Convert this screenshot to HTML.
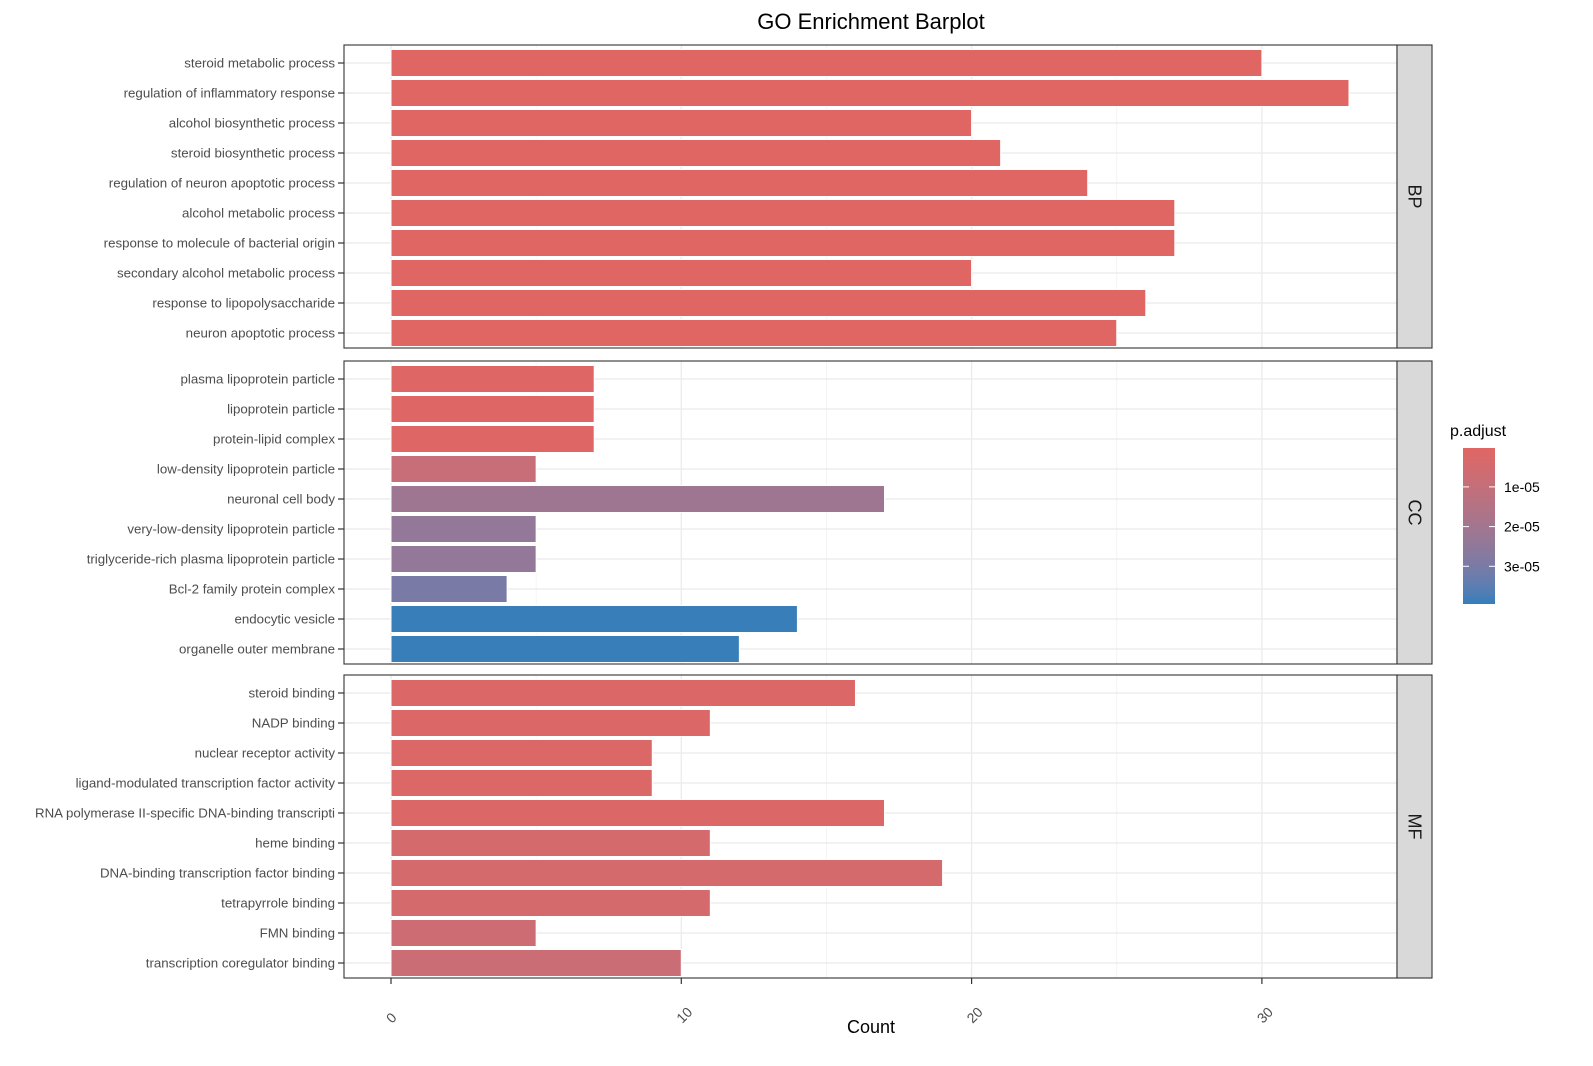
<!DOCTYPE html>
<html><head><meta charset="utf-8"><style>
html,body{margin:0;padding:0;background:#fff;}
svg{display:block;font-family:"Liberation Sans",Arial,sans-serif;}
</style></head><body>
<svg id="chart" width="1593" height="1066" viewBox="0 0 1593 1066"></svg>
<script>
const bpTerms=["steroid metabolic process","regulation of inflammatory response","alcohol biosynthetic process","steroid biosynthetic process","regulation of neuron apoptotic process","alcohol metabolic process","response to molecule of bacterial origin","secondary alcohol metabolic process","response to lipopolysaccharide","neuron apoptotic process"];
const bpCounts=[30,33,20,21,24,27,27,20,26,25];
const bpP=[2e-7,2e-7,2e-7,2e-7,2e-7,2e-7,2e-7,2e-7,2e-7,2e-7];
const ccTerms=["plasma lipoprotein particle","lipoprotein particle","protein-lipid complex","low-density lipoprotein particle","neuronal cell body","very-low-density lipoprotein particle","triglyceride-rich plasma lipoprotein particle","Bcl-2 family protein complex","endocytic vesicle","organelle outer membrane"];
const ccCounts=[7,7,7,5,17,5,5,4,14,12];
const ccP=[1e-6,1e-6,1e-6,9e-6,2.1e-5,2.4e-5,2.4e-5,3.0e-5,3.9e-5,3.9e-5];
const mfTerms=["steroid binding","NADP binding","nuclear receptor activity","ligand-modulated transcription factor activity","RNA polymerase II-specific DNA-binding transcripti","heme binding","DNA-binding transcription factor binding","tetrapyrrole binding","FMN binding","transcription coregulator binding"];
const mfCounts=[16,11,9,9,17,11,19,11,5,10];
const mfP=[1.5e-6,1.5e-6,1.5e-6,1.5e-6,1.5e-6,4e-6,4e-6,4e-6,7e-6,8e-6];
const xTicks=[0,10,20,30];
const legendTicks=[1e-5,2e-5,3e-5];
const legendLabels=["1e-05","2e-05","3e-05"];
const facetNames=["BP","CC","MF"];

const NS="http://www.w3.org/2000/svg";
const svg=document.getElementById("chart");
function el(tag,attrs,parent){const e=document.createElementNS(NS,tag);for(const k in attrs)e.setAttribute(k,attrs[k]);(parent||svg).appendChild(e);return e;}
const X0=391,PX=29.03,PL=344,PR=1397;
const x=v=>X0+v*PX;
const pMin=2e-7,pMax=3.95e-5;
// Lab interpolation
function s2l(c){c/=255;return c<=0.04045?c/12.92:Math.pow((c+0.055)/1.055,2.4);}
function l2s(c){c=c<=0.0031308?12.92*c:1.055*Math.pow(c,1/2.4)-0.055;return Math.max(0,Math.min(255,Math.round(c*255)));}
function toLab(rgb){const [r,g,b]=rgb.map(s2l);let X=(0.4124*r+0.3576*g+0.1805*b)/0.95047,Y=0.2126*r+0.7152*g+0.0722*b,Z=(0.0193*r+0.1192*g+0.9505*b)/1.08883;const f=t=>t>0.008856?Math.cbrt(t):7.787*t+16/116;const fx=f(X),fy=f(Y),fz=f(Z);return [116*fy-16,500*(fx-fy),200*(fy-fz)];}
function fromLab(l){const fy=(l[0]+16)/116,fx=fy+l[1]/500,fz=fy-l[2]/200;const fi=t=>t*t*t>0.008856?t*t*t:(t-16/116)/7.787;const X=fi(fx)*0.95047,Y=fi(fy),Z=fi(fz)*1.08883;const r=3.2406*X-1.5372*Y-0.4986*Z,g=-0.9689*X+1.8758*Y+0.0415*Z,b=0.0557*X-0.2040*Y+1.0570*Z;return [l2s(r),l2s(g),l2s(b)];}
const L1=toLab([224,102,100]),L2=toLab([50,127,187]);
function col(p){let t=(p-pMin)/(pMax-pMin);t=Math.max(0,Math.min(1,t));const c=fromLab(L1.map((a,i)=>a+(L2[i]-a)*t));return `rgb(${c[0]},${c[1]},${c[2]})`;}

let t=el("text",{x:871,y:29,"text-anchor":"middle","font-size":22,fill:"#000"});t.textContent="GO Enrichment Barplot";



const panels=[[45,bpTerms,bpCounts,bpP],[361,ccTerms,ccCounts,ccP],[675,mfTerms,mfCounts,mfP]];
panels.forEach((pn,pi)=>{
  const [top,terms,counts,ps]=pn;const h=303;
  const g=el("g",{});
  
  
  [5,15,25,35].forEach(v=>{if(x(v)<PR)el("line",{x1:x(v),x2:x(v),y1:top,y2:top+h,stroke:"#F2F2F2","stroke-width":0.8},g);});
  xTicks.forEach(v=>el("line",{x1:x(v),x2:x(v),y1:top,y2:top+h,stroke:"#EBEBEB","stroke-width":1.3},g));
  terms.forEach((term,i)=>{
    const cy=top+18+30*i;
    el("line",{x1:PL,x2:PR,y1:cy,y2:cy,stroke:"#EBEBEB","stroke-width":1.3},g);
  });
  terms.forEach((term,i)=>{
    const cy=top+18+30*i;
    const r=el("rect",{x:x(0),y:cy-13.5,width:x(counts[i])-x(0),height:27,fill:col(ps[i]),stroke:"#fff","stroke-width":1},g);
    
    
    el("line",{x1:338,x2:344,y1:cy,y2:cy,stroke:"#333","stroke-width":1.2},g);
    const lb=el("text",{x:335,y:cy+4.5,"text-anchor":"end","font-size":13.3,fill:"#4D4D4D"},g);lb.textContent=term;
    
    
  });
  el("rect",{x:PL,y:top,width:PR-PL,height:h,fill:"none",stroke:"#333","stroke-width":1.1},g);
  const s=el("rect",{x:PR,y:top,width:35,height:h,fill:"#D9D9D9",stroke:"#333","stroke-width":1.1},g);
  
  
  const st=el("text",{x:PR+17.5,y:top+h/2,"text-anchor":"middle","font-size":18,fill:"#1A1A1A",transform:`rotate(90 ${PR+17.5} ${top+h/2})`,"dominant-baseline":"central"},g);
  st.textContent=facetNames[pi];
});
xTicks.forEach(v=>{
  el("line",{x1:x(v),x2:x(v),y1:978,y2:984,stroke:"#333","stroke-width":1.2});
  const tx=x(v)+1,ty=1024;
  const tt=el("text",{x:tx,y:ty,"text-anchor":"start","font-size":14,fill:"#4D4D4D",transform:`rotate(-45 ${tx} ${ty})`});
  tt.textContent=v;
  
  
});
const xt=el("text",{x:871,y:1033,"text-anchor":"middle","font-size":18,fill:"#000"});xt.textContent="Count";


const lg=el("g",{});


const lt=el("text",{x:1450,y:436,"font-size":16,fill:"#000"},lg);lt.textContent="p.adjust";
const defs=el("defs",{});
const gr=el("linearGradient",{id:"lgrad",x1:0,y1:0,x2:0,y2:1},defs);
for(let k=0;k<=20;k++){el("stop",{offset:k/20,"stop-color":col(pMin+(pMax-pMin)*k/20)},gr);}
const LT=448,LB=604,ly=p=>LT+(p-pMin)/(pMax-pMin)*(LB-LT);
const bar=el("rect",{x:1463,y:LT,width:32,height:LB-LT,fill:"url(#lgrad)"},lg);


legendTicks.forEach((v,i)=>{
  const yy=ly(v);
  el("line",{x1:1463,x2:1469,y1:yy,y2:yy,stroke:"#fff","stroke-width":1},lg);
  el("line",{x1:1489,x2:1495,y1:yy,y2:yy,stroke:"#fff","stroke-width":1},lg);
  const l=el("text",{x:1504,y:yy+5,"font-size":14,fill:"#000"},lg);l.textContent=legendLabels[i];
});
</script>
</body></html>
